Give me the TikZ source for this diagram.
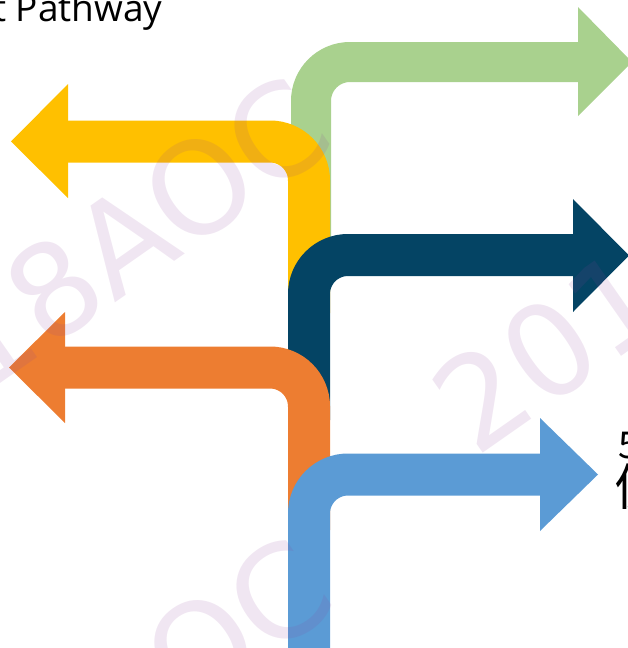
\documentclass[tikz,border=0pt]{standalone}
\usepackage{fontspec}
\newfontfamily\osans{Open Sans}
\newfontfamily\cjk{Noto Sans CJK SC}
\newfontfamily\wmfont{DejaVu Sans}
\definecolor{agreen}{HTML}{A9D18E}
\definecolor{ayellow}{HTML}{FFC000}
\definecolor{anavy}{HTML}{044464}
\definecolor{aorange}{HTML}{ED7D31}
\definecolor{ablue}{HTML}{5B9BD5}
\definecolor{wmcol}{rgb}{0.55,0.25,0.6}
\tikzset{
  stem/.style={line width=#1, rounded corners=39pt},
  wm/.style={text=wmcol, text opacity=0.13, rotate=35, inner sep=0pt,
    font=\wmfont\fontsize{128}{130}\selectfont},
}
\begin{document}
\begin{tikzpicture}[x=1pt,y=-1pt]
\useasboundingbox (0,0) rectangle (627,648);
% green
\draw[stem=40pt, agreen] (311,250) -- (311,62) -- (579,62);
\fill[agreen] (578,7) -- (632,62) -- (578,116) -- cycle;
% yellow
\draw[stem=42pt, ayellow] (309,313) -- (309,141.5) -- (67,141.5);
\fill[ayellow] (68,84) -- (11,141.5) -- (68,198) -- cycle;
% navy
\draw[stem=42pt, anavy] (309,420) -- (309,255) -- (574,255);
\fill[anavy] (573,199) -- (629,255.5) -- (573,312) -- cycle;
% orange
\draw[stem=42pt, aorange] (309,530) -- (309,367.5) -- (64,367.5);
\fill[aorange] (65,312) -- (9,367.5) -- (65,423) -- cycle;
% blue
\draw[stem=42pt, ablue] (309,652) -- (309,474.5) -- (541,474.5);
\fill[ablue] (540,418) -- (598,474.5) -- (540,531) -- cycle;
% texts
\node[anchor=base west, inner sep=0pt, font=\osans\fontsize{37}{40}\selectfont] (title) at (-7,21) {t Pathway};
\node[anchor=base west, inner sep=0pt, font=\cjk\fontsize{37}{40}\selectfont] (five) at (618,458) {5};
\node[anchor=base west, inner sep=0pt, font=\cjk\fontsize{50}{54}\selectfont] (chr) at (615,505) {促};
% watermarks
\node[wm] (wmA) at (67,280) {2018AOC};
\node[wm] (wmB) at (69,741) {2018AOC};
\node[wm] (wmC) at (695,248) {2018AOC};
\end{tikzpicture}
\end{document}
